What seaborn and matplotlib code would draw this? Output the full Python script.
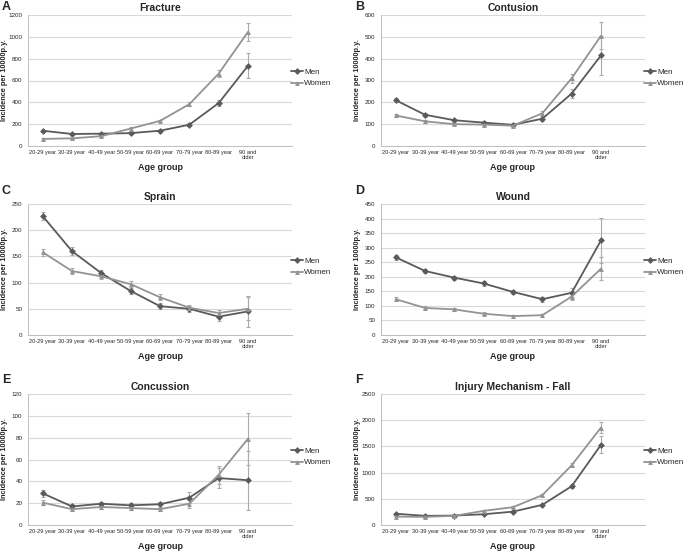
import matplotlib
matplotlib.use("Agg")
import matplotlib.pyplot as plt
import seaborn as sns
import pandas as pd
import numpy as np

sns.set_theme(style="white")
plt.rcParams['font.family'] = ['Liberation Sans', 'DejaVu Sans']

ages = ["20-29 year", "30-39 year", "40-49 year", "50-59 year", "60-69 year",
        "70-79 year", "80-89 year", "90 and\nolder"]

fracture_men = [140, 110, 113, 118, 140, 195, 393, 735]
fracture_men_err = [10, 8, 8, 8, 8, 12, 28, 115]
fracture_women = [65, 70, 90, 160, 230, 383, 663, 1045]
fracture_women_err = [6, 6, 8, 12, 12, 18, 30, 80]

contusion_men = [210, 143, 118, 107, 97, 125, 240, 415]
contusion_men_err = [8, 8, 6, 6, 6, 12, 22, 88]
contusion_women = [140, 113, 100, 98, 93, 150, 310, 505]
contusion_women_err = [8, 6, 6, 6, 6, 12, 20, 62]

sprain_men = [227, 160, 118, 84, 55, 50, 35, 45]
sprain_men_err = [8, 7, 6, 6, 6, 6, 8, 29]
sprain_women = [158, 122, 112, 97, 72, 52, 42, 50]
sprain_women_err = [7, 6, 6, 6, 6, 5, 6, 22]

wound_men = [267, 220, 197, 177, 148, 123, 145, 325]
wound_men_err = [8, 8, 7, 7, 7, 8, 15, 77]
wound_women = [123, 93, 88, 73, 65, 68, 132, 228]
wound_women_err = [6, 5, 5, 5, 5, 5, 12, 40]

concussion_men = [29, 17, 19.5, 18, 19, 25, 43, 41]
concussion_men_err = [3, 2, 2, 2, 2.5, 5, 9, 27]
concussion_women = [20.5, 14.5, 16.5, 15.5, 14.5, 19.5, 46, 79]
concussion_women_err = [2.5, 1.5, 1.5, 1.5, 1.5, 3.5, 8, 24]

fall_men = [215, 175, 180, 205, 255, 385, 740, 1530]
fall_men_err = [15, 12, 12, 12, 15, 20, 40, 165]
fall_women = [160, 155, 175, 270, 340, 570, 1140, 1860]
fall_women_err = [12, 12, 12, 15, 18, 22, 35, 105]

panels = [
    ("A", "Fracture", fracture_men, fracture_men_err, fracture_women, fracture_women_err, 1200, 200),
    ("B", "Contusion", contusion_men, contusion_men_err, contusion_women, contusion_women_err, 600, 100),
    ("C", "Sprain", sprain_men, sprain_men_err, sprain_women, sprain_women_err, 250, 50),
    ("D", "Wound", wound_men, wound_men_err, wound_women, wound_women_err, 450, 50),
    ("E", "Concussion", concussion_men, concussion_men_err, concussion_women, concussion_women_err, 120, 20),
    ("F", "Injury Mechanism - Fall", fall_men, fall_men_err, fall_women, fall_women_err, 2500, 500),
]

W, H = 685, 551
fig = plt.figure(figsize=(W / 100, H / 100), dpi=100)

col_left = [28, 381]
row_top = [15, 204, 394]
letter_top = [1, 185, 374]
ax_w, ax_h = 264, 131

men_color = "#5a5a5a"
women_color = "#939393"
err_color = "#ababab"
grid_color = "#d9d9d9"

for i, (letter, title, men, men_err, women, women_err, ymax, ystep) in enumerate(panels):
    r, c = divmod(i, 2)
    left = col_left[c]
    top = row_top[r]
    ax = fig.add_axes([left / W, 1 - (top + ax_h) / H, ax_w / W, ax_h / H])

    df = pd.DataFrame({
        "pos": list(range(len(ages))) * 2,
        "value": list(men) + list(women),
        "err": list(men_err) + list(women_err),
        "sex": ["Men"] * len(ages) + ["Women"] * len(ages),
    })

    for sex in ("Men", "Women"):
        sub = df[df["sex"] == sex]
        ax.errorbar(sub["pos"], sub["value"], yerr=sub["err"], fmt="none",
                    ecolor=err_color, elinewidth=0.8, capsize=1.6, capthick=0.8, zorder=2)

    sns.lineplot(data=df, x="pos", y="value", hue="sex", style="sex",
                 palette={"Men": men_color, "Women": women_color},
                 markers={"Men": "D", "Women": "^"}, dashes=False,
                 markersize=3.5, markeredgewidth=0, linewidth=1.3, ax=ax, zorder=3)

    ax.set_xlim(-0.5, 8.5)
    ax.set_ylim(0, ymax)
    ax.set_yticks(np.arange(0, ymax + 1, ystep))
    ax.yaxis.grid(True, color=grid_color, linewidth=0.8)
    ax.set_axisbelow(True)
    ax.set_xticks(range(len(ages)))
    ax.set_xticklabels(ages, fontsize=4.1, linespacing=1.0)
    ax.set_xticks(np.arange(-0.5, 9, 1), minor=True)
    ax.tick_params(axis="x", which="major", length=0, pad=3)
    ax.tick_params(axis="x", which="minor", length=2.5, width=0.6, color="#bfbfbf", direction="out")
    ax.tick_params(axis="y", labelsize=4.5, length=0, pad=4)
    for s in ("top", "right"):
        ax.spines[s].set_visible(False)
    for s in ("left", "bottom"):
        ax.spines[s].set_color("#bfbfbf")
        ax.spines[s].set_linewidth(0.7)

    ax.set_xlabel("Age group", fontsize=6.5, fontweight="bold")
    ax.xaxis.set_label_coords(0.5, -0.13)
    ax.set_ylabel("Incidence per 10000p.y.", fontsize=5.3, fontweight="bold")
    ax.yaxis.set_label_coords(-0.075, 0.5)
    ax.set_title(title, fontsize=7.5, fontweight="bold", pad=3)

    ax.legend(loc="center left", bbox_to_anchor=(0.995, 0.52), frameon=False,
              fontsize=5.8, handlelength=1.5, handletextpad=0.15, labelspacing=0.45,
              borderaxespad=0, borderpad=0)
    fig.text((left - 26) / W, 1 - letter_top[r] / H, letter,
             fontsize=9, fontweight="bold", va="top", ha="left")

fig.savefig("out.png", dpi=100)
